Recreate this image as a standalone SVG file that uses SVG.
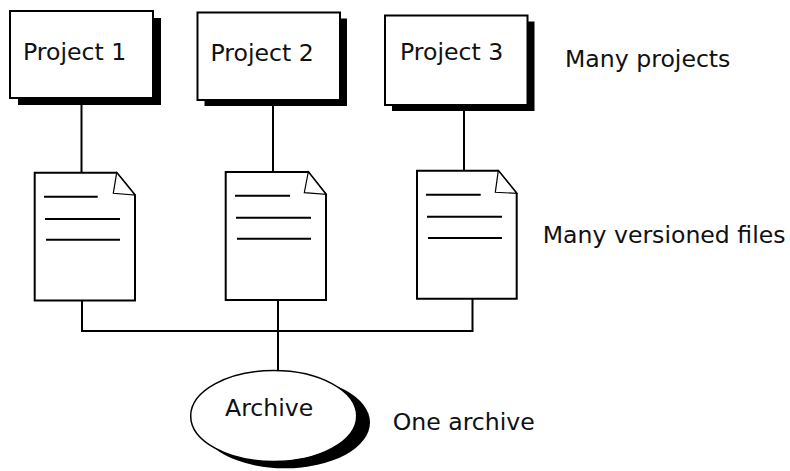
<svg xmlns="http://www.w3.org/2000/svg" width="790" height="471" viewBox="0 0 790 471">
<style>
.box{fill:#fff;stroke:#000;stroke-width:2}
.shadow{fill:#000}
.doc{fill:#fff;stroke:#000;stroke-width:2}
.fold{fill:#fff;stroke:#000;stroke-width:1.2}
.ln{stroke:#000;stroke-width:2;fill:none}
.t{font-family:"DejaVu Sans",Verdana,sans-serif;font-size:23.6px;fill:#111}
</style>
<rect width="790" height="471" fill="#fff"/>
<g id="connectors" class="ln">
<line x1="81.5" y1="98" x2="81.5" y2="173"/>
<line x1="273" y1="100" x2="273" y2="172"/>
<line x1="464" y1="105" x2="464" y2="171"/>
<polyline points="82,300 82,331 472.5,331 472.5,299"/>
<line x1="278" y1="301" x2="278" y2="371"/>
</g>
<g id="project1">
<rect class="shadow" x="18" y="18" width="143" height="87"/>
<rect class="box" x="10" y="11" width="143" height="87"/>
<text class="t" x="23" y="60">Project 1</text>
</g>
<g id="project2">
<rect class="shadow" x="204.5" y="18.5" width="142.5" height="87.5"/>
<rect class="box" x="197.5" y="12.5" width="142.5" height="87.5"/>
<text class="t" x="210.5" y="60.5">Project 2</text>
</g>
<g id="project3">
<rect class="shadow" x="392" y="21.5" width="142.5" height="89.5"/>
<rect class="box" x="385" y="15.5" width="142.5" height="89.5"/>
<text class="t" x="400" y="59.5">Project 3</text>
</g>
<text id="label-projects" class="t" x="565" y="66.5">Many projects</text>
<g id="file1">
<path class="doc" d="M34.7,172.7 H116.7 L135,195 V300.5 H34.7 Z"/>
<path class="fold" d="M116.7,172.7 L113.3,193.3 L135,195 Z"/>
<line class="ln" x1="44" y1="196.7" x2="97.7" y2="196.7"/>
<line class="ln" x1="45" y1="219" x2="120" y2="219"/>
<line class="ln" x1="46" y1="239.7" x2="120" y2="239.7"/>
</g>
<g id="file2">
<path class="doc" d="M225.7,172 H308.3 L326,194.3 V300 H225.7 Z"/>
<path class="fold" d="M308.3,172 L304.3,192.7 L326,194.3 Z"/>
<line class="ln" x1="235" y1="195.7" x2="290" y2="195.7"/>
<line class="ln" x1="236" y1="217.7" x2="311" y2="217.7"/>
<line class="ln" x1="237" y1="238.7" x2="311" y2="238.7"/>
</g>
<g id="file3">
<path class="doc" d="M417,170.7 H498.3 L516.7,193.3 V298.7 H417 Z"/>
<path class="fold" d="M498.3,170.7 L495.3,192.3 L516.7,193.3 Z"/>
<line class="ln" x1="426" y1="194.7" x2="480.7" y2="194.7"/>
<line class="ln" x1="427" y1="216.7" x2="502" y2="216.7"/>
<line class="ln" x1="428" y1="238" x2="502" y2="238"/>
</g>
<text id="label-files" class="t" x="542.7" y="242.7">Many versioned files</text>
<g id="archive">
<ellipse class="shadow" cx="285" cy="422.5" rx="85" ry="45.8"/>
<ellipse cx="273.7" cy="416" rx="83" ry="45.5" fill="#fff" stroke="#000" stroke-width="1.5"/>
<text class="t" x="225" y="415.7">Archive</text>
</g>
<text id="label-archive" class="t" x="392.7" y="430">One archive</text>
</svg>
